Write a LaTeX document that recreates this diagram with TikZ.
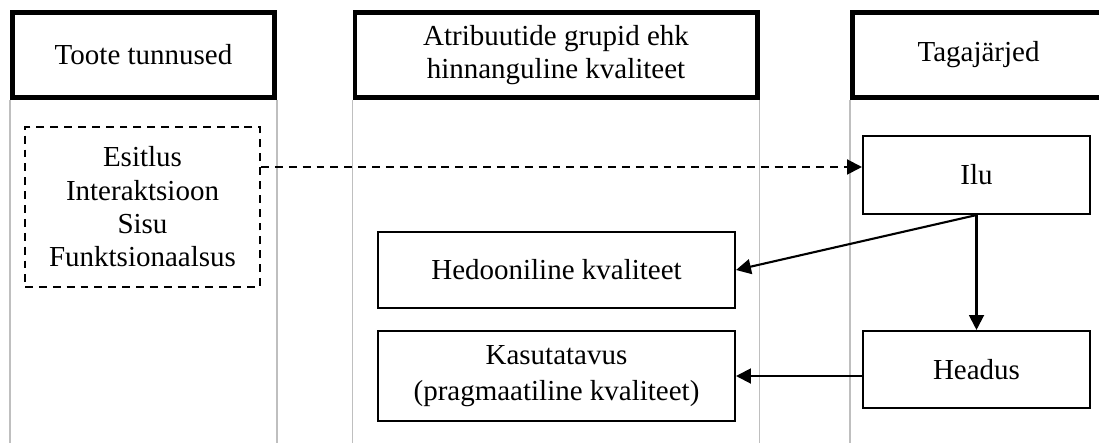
\documentclass[tikz,border=0pt]{standalone}
\usepackage{fontspec}
\setmainfont{Liberation Serif}
\usetikzlibrary{arrows.meta,calc}

\begin{document}
\begin{tikzpicture}[x=0.02cm,y=-0.02cm,
  every node/.style={font=\fontsize{16.5}{19}\selectfont,align=center,inner sep=0pt},
  head/.style={draw,line width=2.6pt,minimum height=1.7cm},
  box/.style={draw,line width=1.2pt,minimum width=7.14cm},
  lane/.style={draw=black!25,line width=1.1pt},
  flow/.style={line width=1.2pt,-{Triangle[length=8.5pt,width=8.5pt]}}]
\useasboundingbox (0,0) rectangle (1099,443);
\coordinate (bottom) at (0,443);

\node[head,minimum width=5.24cm] (tunnus) at (143.5,55) {Toote tunnused};
\node[head,minimum width=8.05cm] (grupp) at (556,55) {Atribuutide grupid ehk\\hinnanguline kvaliteet};
\node[head,minimum width=5.04cm] (tagaj) at (978.5,55) {Tagaj\"arjed};

\foreach \h in {tunnus,grupp,tagaj}{
  \draw[lane] (\h.south west) -- (\h.south west |- bottom);
  \draw[lane] (\h.south east) -- (\h.south east |- bottom);
}

\node[draw,line width=1.2pt,dash pattern=on 4.5pt off 3.4pt,minimum width=4.7cm,minimum height=3.2cm]
  (omadus) at (142.5,207) {Esitlus\\Interaktsioon\\Sisu\\Funktsionaalsus};
\node[box,minimum width=4.54cm,minimum height=1.56cm] (ilu) at (976.5,175) {Ilu};
\node[box,minimum width=4.54cm,minimum height=1.54cm] (headus) at (976.5,369.5) {Headus};
\node[box,minimum height=1.52cm] (hedon) at (556.5,270) {Hedooniline kvaliteet};
\node[box,minimum height=1.8cm,font=\fontsize{16.5}{20.5}\selectfont] (kasut) at (556.5,376) {Kasutatavus\\(pragmaatiline kvaliteet)};

\coordinate (sihik) at ($(ilu.north west)!0.4!(ilu.south west)$);
\draw[flow,dash pattern=on 4.5pt off 3.4pt] (omadus.east |- sihik) -- (sihik);
\draw[flow] (ilu.south) -- (hedon.east);
\draw[flow] (ilu.south) -- (headus.north);
\draw[flow] (headus.west |- kasut.east) -- (kasut.east);
\end{tikzpicture}
\end{document}
